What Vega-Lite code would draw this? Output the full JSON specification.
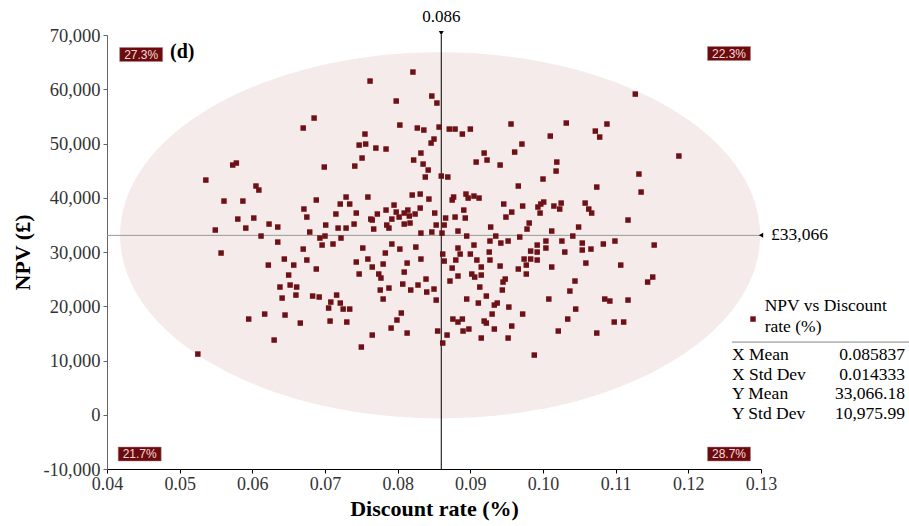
{
  "$schema": "https://vega.github.io/schema/vega-lite/v6.json",
  "width": 654,
  "height": 434,
  "autosize": {"type": "none"},
  "padding": {"left": 107, "top": 35, "right": 148, "bottom": 57},
  "background": "white",
  "config": {
    "view": {"stroke": null},
    "font": "Liberation Serif",
    "axis": {"grid": false, "labelFont": "Liberation Serif", "titleFont": "Liberation Serif", "titleFontWeight": "bold", "titleColor": "#000", "labelColor": "#333"}
  },
  "datasets": {
    "points": [
      {"rate":0.0821,"npv":63170},{"rate":0.0762,"npv":61510},{"rate":0.0847,"npv":58750},{"rate":0.0854,"npv":57460},{"rate":0.0798,"npv":57830},
      {"rate":0.0685,"npv":54690},{"rate":0.0670,"npv":52850},{"rate":0.0803,"npv":53400},{"rate":0.0827,"npv":52850},{"rate":0.0836,"npv":52480},
      {"rate":0.0857,"npv":53030},{"rate":0.0755,"npv":51740},{"rate":0.0850,"npv":50820},{"rate":0.0846,"npv":50080},{"rate":0.0747,"npv":49710},
      {"rate":0.0756,"npv":49900},{"rate":0.0770,"npv":49160},{"rate":0.0784,"npv":48980},{"rate":0.0832,"npv":48240},{"rate":0.0751,"npv":47320},
      {"rate":0.0822,"npv":46950},{"rate":0.0573,"npv":46030},{"rate":0.0578,"npv":46400},{"rate":0.0699,"npv":45660},{"rate":0.0741,"npv":45840},
      {"rate":0.0835,"npv":46210},{"rate":0.0842,"npv":45110},{"rate":0.0838,"npv":43820},{"rate":0.0860,"npv":44000},{"rate":0.0536,"npv":43260},
      {"rate":0.0605,"npv":42160},{"rate":0.0609,"npv":41420},{"rate":0.0561,"npv":39390},{"rate":0.0587,"npv":39390},{"rate":0.0688,"npv":39580},
      {"rate":0.0671,"npv":37920},{"rate":0.0729,"npv":40130},{"rate":0.0721,"npv":38840},{"rate":0.0734,"npv":38840},{"rate":0.0759,"npv":40130},
      {"rate":0.0820,"npv":40500},{"rate":0.0831,"npv":40680},{"rate":0.0843,"npv":39760},{"rate":0.0715,"npv":37000},{"rate":0.0743,"npv":37180},
      {"rate":0.0675,"npv":36440},{"rate":0.0772,"npv":37000},{"rate":0.0784,"npv":37730},{"rate":0.0795,"npv":38650},{"rate":0.0798,"npv":37360},
      {"rate":0.0814,"npv":37730},{"rate":0.0831,"npv":38100},{"rate":0.0809,"npv":37180},{"rate":0.0802,"npv":36440},{"rate":0.0816,"npv":36630},
      {"rate":0.0824,"npv":37000},{"rate":0.0851,"npv":37180},{"rate":0.0580,"npv":36070},{"rate":0.0602,"npv":36260},{"rate":0.0763,"npv":36070},
      {"rate":0.0792,"npv":36070},{"rate":0.1127,"npv":59110},{"rate":0.0871,"npv":52660},{"rate":0.0879,"npv":52660},{"rate":0.0889,"npv":51740},
      {"rate":0.0900,"npv":52660},{"rate":0.0956,"npv":53590},{"rate":0.1032,"npv":53770},{"rate":0.1088,"npv":53590},{"rate":0.1072,"npv":52290},
      {"rate":0.1078,"npv":51190},{"rate":0.1010,"npv":51370},{"rate":0.0971,"npv":49900},{"rate":0.0961,"npv":48420},{"rate":0.0919,"npv":48240},
      {"rate":0.0923,"npv":46950},{"rate":0.0908,"npv":46580},{"rate":0.0941,"npv":46030},{"rate":0.1019,"npv":46580},{"rate":0.1018,"npv":44920},
      {"rate":0.1187,"npv":47690},{"rate":0.1132,"npv":44370},{"rate":0.0869,"npv":43820},{"rate":0.1000,"npv":43450},{"rate":0.0966,"npv":42160},
      {"rate":0.1074,"npv":41970},{"rate":0.1135,"npv":41050},{"rate":0.0875,"npv":39580},{"rate":0.0877,"npv":40130},{"rate":0.0894,"npv":40680},
      {"rate":0.0897,"npv":39940},{"rate":0.0905,"npv":40310},{"rate":0.0912,"npv":39940},{"rate":0.0891,"npv":37730},{"rate":0.0946,"npv":38840},
      {"rate":0.0972,"npv":38470},{"rate":0.0993,"npv":38290},{"rate":0.0997,"npv":38840},{"rate":0.1001,"npv":39210},{"rate":0.1015,"npv":38470},
      {"rate":0.1025,"npv":39020},{"rate":0.1023,"npv":37920},{"rate":0.0996,"npv":37180},{"rate":0.1058,"npv":39020},{"rate":0.1063,"npv":37920},
      {"rate":0.1067,"npv":37180},{"rate":0.0957,"npv":37360},{"rate":0.0949,"npv":36440},{"rate":0.0866,"npv":36260},{"rate":0.0879,"npv":36440},
      {"rate":0.0893,"npv":36260},{"rate":0.1117,"npv":35890},{"rate":0.0549,"npv":34050},{"rate":0.0591,"npv":34410},{"rate":0.0623,"npv":35150},
      {"rate":0.0635,"npv":34600},{"rate":0.0612,"npv":32940},{"rate":0.0635,"npv":31830},{"rate":0.0679,"npv":33680},{"rate":0.0701,"npv":34970},
      {"rate":0.0718,"npv":34410},{"rate":0.0729,"npv":34410},{"rate":0.0740,"npv":35150},{"rate":0.0765,"npv":35890},{"rate":0.0767,"npv":34230},
      {"rate":0.0785,"npv":34970},{"rate":0.0788,"npv":34410},{"rate":0.0809,"npv":35150},{"rate":0.0817,"npv":35340},{"rate":0.0853,"npv":34970},
      {"rate":0.0832,"npv":33490},{"rate":0.0847,"npv":33680},{"rate":0.0861,"npv":33490},{"rate":0.0693,"npv":32570},{"rate":0.0700,"npv":32940},
      {"rate":0.0722,"npv":32570},{"rate":0.0696,"npv":31280},{"rate":0.0711,"npv":31470},{"rate":0.0557,"npv":29810},{"rate":0.0670,"npv":30540},
      {"rate":0.0644,"npv":28700},{"rate":0.0675,"npv":28520},{"rate":0.0657,"npv":27590},{"rate":0.0622,"npv":27590},{"rate":0.0688,"npv":26860},
      {"rate":0.0752,"npv":30730},{"rate":0.0792,"npv":31470},{"rate":0.0803,"npv":30540},{"rate":0.0825,"npv":30910},{"rate":0.0783,"npv":29810},
      {"rate":0.0743,"npv":28150},{"rate":0.0759,"npv":28700},{"rate":0.0780,"npv":27780},{"rate":0.0765,"npv":27230},{"rate":0.0813,"npv":27960},
      {"rate":0.0832,"npv":28700},{"rate":0.0809,"npv":26300},{"rate":0.0747,"npv":25940},{"rate":0.0774,"npv":25940},{"rate":0.0777,"npv":25200},
      {"rate":0.0650,"npv":25750},{"rate":0.0652,"npv":23910},{"rate":0.0638,"npv":23540},{"rate":0.0661,"npv":23540},{"rate":0.0660,"npv":22060},
      {"rate":0.0641,"npv":21510},{"rate":0.0683,"npv":21880},{"rate":0.0692,"npv":21700},{"rate":0.0716,"npv":22060},{"rate":0.0708,"npv":20770},
      {"rate":0.0721,"npv":20590},{"rate":0.0705,"npv":19670},{"rate":0.0725,"npv":19480},{"rate":0.0734,"npv":19480},{"rate":0.0776,"npv":22990},
      {"rate":0.0788,"npv":23350},{"rate":0.0780,"npv":21330},{"rate":0.0807,"npv":24090},{"rate":0.0818,"npv":22990},{"rate":0.0828,"npv":23910},
      {"rate":0.0839,"npv":25010},{"rate":0.0840,"npv":22620},{"rate":0.0850,"npv":23170},{"rate":0.0853,"npv":21140},{"rate":0.0862,"npv":29620},
      {"rate":0.0864,"npv":28330},{"rate":0.0805,"npv":18750},{"rate":0.0799,"npv":17460},{"rate":0.0791,"npv":15980},{"rate":0.0813,"npv":15060},
      {"rate":0.0765,"npv":14690},{"rate":0.0750,"npv":12480},{"rate":0.0855,"npv":15430},{"rate":0.0862,"npv":13220},{"rate":0.0595,"npv":17640},
      {"rate":0.0617,"npv":18560},{"rate":0.0645,"npv":18380},{"rate":0.0666,"npv":16900},{"rate":0.0707,"npv":17270},{"rate":0.0730,"npv":17090},
      {"rate":0.0630,"npv":13770},{"rate":0.0525,"npv":11190},{"rate":0.0864,"npv":34970},{"rate":0.0883,"npv":33860},{"rate":0.0895,"npv":32940},
      {"rate":0.0928,"npv":34600},{"rate":0.0935,"npv":32940},{"rate":0.0927,"npv":32020},{"rate":0.0942,"npv":31650},{"rate":0.0952,"npv":32020},
      {"rate":0.0968,"npv":32760},{"rate":0.0981,"npv":35340},{"rate":0.0978,"npv":34230},{"rate":0.1012,"npv":33860},{"rate":0.1049,"npv":34600},
      {"rate":0.1041,"npv":32940},{"rate":0.1026,"npv":32020},{"rate":0.1004,"npv":32020},{"rate":0.0992,"npv":31280},{"rate":0.1004,"npv":30730},
      {"rate":0.1054,"npv":31650},{"rate":0.1066,"npv":30540},{"rate":0.1054,"npv":30360},{"rate":0.1083,"npv":31470},{"rate":0.1099,"npv":32020},
      {"rate":0.1153,"npv":31280},{"rate":0.0905,"npv":31280},{"rate":0.0883,"npv":30730},{"rate":0.0886,"npv":29620},{"rate":0.0900,"npv":29620},
      {"rate":0.0880,"npv":28520},{"rate":0.0909,"npv":28520},{"rate":0.0926,"npv":29990},{"rate":0.0927,"npv":28520},{"rate":0.0875,"npv":27040},
      {"rate":0.0915,"npv":27230},{"rate":0.0941,"npv":27410},{"rate":0.0966,"npv":26860},{"rate":0.0974,"npv":28700},{"rate":0.0983,"npv":30170},
      {"rate":0.0992,"npv":29990},{"rate":0.0983,"npv":28700},{"rate":0.0992,"npv":28520},{"rate":0.0977,"npv":27590},{"rate":0.0977,"npv":25940},
      {"rate":0.1030,"npv":29990},{"rate":0.1012,"npv":27230},{"rate":0.1059,"npv":27960},{"rate":0.1107,"npv":27590},{"rate":0.0883,"npv":25570},
      {"rate":0.0902,"npv":25940},{"rate":0.0906,"npv":25380},{"rate":0.0915,"npv":25750},{"rate":0.0872,"npv":24650},{"rate":0.0948,"npv":25010},
      {"rate":0.0945,"npv":24460},{"rate":0.0913,"npv":23540},{"rate":0.0944,"npv":22990},{"rate":0.0922,"npv":21880},{"rate":0.0895,"npv":21330},
      {"rate":0.0911,"npv":20590},{"rate":0.0937,"npv":20590},{"rate":0.0933,"npv":20220},{"rate":0.0953,"npv":19850},{"rate":0.0930,"npv":18560},
      {"rate":0.0972,"npv":18560},{"rate":0.1008,"npv":21330},{"rate":0.1044,"npv":24650},{"rate":0.1037,"npv":22800},{"rate":0.1045,"npv":19480},
      {"rate":0.1034,"npv":17640},{"rate":0.1085,"npv":21330},{"rate":0.1092,"npv":20960},{"rate":0.1117,"npv":21140},{"rate":0.1144,"npv":24460},
      {"rate":0.1151,"npv":25380},{"rate":0.1098,"npv":17090},{"rate":0.1111,"npv":17090},{"rate":0.1074,"npv":15060},{"rate":0.1021,"npv":15430},
      {"rate":0.0876,"npv":17640},{"rate":0.0883,"npv":17090},{"rate":0.0889,"npv":17640},{"rate":0.0919,"npv":17270},{"rate":0.0922,"npv":16900},
      {"rate":0.0957,"npv":16350},{"rate":0.0933,"npv":15800},{"rate":0.0898,"npv":15800},{"rate":0.0890,"npv":15430},{"rate":0.0868,"npv":14690},
      {"rate":0.0915,"npv":14140},{"rate":0.0952,"npv":14140},{"rate":0.0988,"npv":11000}
    ]
  },
  "layer": [
    {
      "data": {"values": [{"xmean": 0.085837, "ymean": 33066.18}]},
      "mark": {"type": "point", "shape": "M -1 0 C -1 -0.316 -0.5523 -0.572 0 -0.572 C 0.5523 -0.572 1 -0.316 1 0 C 1 0.316 0.5523 0.572 0 0.572 C -0.5523 0.572 -1 0.316 -1 0 Z", "size": 409600, "filled": true, "fill": "#F5EBEB", "strokeWidth": 0, "opacity": 1},
      "encoding": {
        "x": {"field": "xmean", "type": "quantitative", "scale": {"domain": [0.04, 0.13], "nice": false, "zero": false},
          "axis": {"title": "Discount rate (%)", "values": [0.04,0.05,0.06,0.07,0.08,0.09,0.10,0.11,0.12,0.13], "format": ".2f", "labelFontSize": 18, "tickSize": 4, "tickColor": "#000", "domainColor": "#000", "labelPadding": 2, "titleFontSize": 22, "titlePadding": 5, "labelFlush": false}},
        "y": {"field": "ymean", "type": "quantitative", "scale": {"domain": [-10000, 70000], "nice": false, "zero": false},
          "axis": {"title": "NPV (£)", "values": [-10000,0,10000,20000,30000,40000,50000,60000,70000], "labelExpr": "replace(format(datum.value, ','), '\u2212', '-')", "labelFontSize": 18.5, "tickSize": 4, "tickColor": "#666", "domainColor": "#666", "labelPadding": 3, "titleFontSize": 22, "titlePadding": 8}}
      }
    },
    {
      "data": {"values": [{}]},
      "mark": {"type": "rule", "color": "#999999", "strokeWidth": 1},
      "encoding": {"y": {"datum": 33066}}
    },
    {
      "data": {"values": [{}]},
      "mark": {"type": "rule", "color": "#000000", "strokeWidth": 1},
      "encoding": {"x": {"datum": 0.086}}
    },
    {
      "data": {"name": "points"},
      "mark": {"type": "square", "filled": true, "size": 30, "color": "#6E1116", "opacity": 1},
      "encoding": {
        "x": {"field": "rate", "type": "quantitative"},
        "y": {"field": "npv", "type": "quantitative"}
      }
    },
    {
      "data": {"values": [{}]},
      "mark": {"type": "point", "shape": "triangle-down", "filled": true, "size": 25, "color": "#000", "opacity": 1},
      "encoding": {"x": {"datum": 0.086}, "y": {"datum": 70360}}
    },
    {
      "data": {"values": [{}]},
      "mark": {"type": "point", "shape": "triangle-left", "filled": true, "size": 25, "color": "#000", "opacity": 1},
      "encoding": {"x": {"datum": 0.13}, "y": {"datum": 33066}}
    },
    {
      "data": {"values": [{}]},
      "mark": {"type": "text", "text": "0.086", "font": "Liberation Serif", "fontSize": 17, "color": "#000", "align": "center", "baseline": "middle"},
      "encoding": {"x": {"datum": 0.086}, "y": {"datum": 73300}}
    },
    {
      "data": {"values": [{}]},
      "mark": {"type": "text", "text": "£33,066", "font": "Liberation Serif", "fontSize": 17.5, "color": "#000", "align": "left", "baseline": "middle", "dx": 10},
      "encoding": {"x": {"datum": 0.13}, "y": {"datum": 33066}}
    },
    {
      "data": {"values": [{}]},
      "mark": {"type": "text", "text": "(d)", "font": "Liberation Serif", "fontSize": 20, "fontWeight": "bold", "color": "#000", "align": "left", "baseline": "middle"},
      "encoding": {"x": {"datum": 0.04867}, "y": {"datum": 66860}}
    },
    {
      "data": {"values": [{}]},
      "encoding": {"x": {"datum": 0.0447}, "y": {"datum": 66400}},
      "layer": [
        {"mark": {"type": "point", "shape": "M -1 -0.326 L 1 -0.326 L 1 0.326 L -1 0.326 Z", "size": 1849, "filled": true, "fill": "#6B0B0E", "stroke": "#B58585", "strokeWidth": 0.5, "opacity": 1}},
        {"mark": {"type": "text", "text": "27.3%", "font": "Liberation Sans", "fontSize": 12, "color": "#F7DCDC", "align": "center", "baseline": "middle"}}
      ]
    },
    {
      "data": {"values": [{}]},
      "encoding": {"x": {"datum": 0.1256}, "y": {"datum": 66580}},
      "layer": [
        {"mark": {"type": "point", "shape": "M -1 -0.326 L 1 -0.326 L 1 0.326 L -1 0.326 Z", "size": 1849, "filled": true, "fill": "#6B0B0E", "stroke": "#B58585", "strokeWidth": 0.5, "opacity": 1}},
        {"mark": {"type": "text", "text": "22.3%", "font": "Liberation Sans", "fontSize": 12, "color": "#F7DCDC", "align": "center", "baseline": "middle"}}
      ]
    },
    {
      "data": {"values": [{}]},
      "encoding": {"x": {"datum": 0.0445}, "y": {"datum": -7240}},
      "layer": [
        {"mark": {"type": "point", "shape": "M -1 -0.326 L 1 -0.326 L 1 0.326 L -1 0.326 Z", "size": 1849, "filled": true, "fill": "#6B0B0E", "stroke": "#B58585", "strokeWidth": 0.5, "opacity": 1}},
        {"mark": {"type": "text", "text": "21.7%", "font": "Liberation Sans", "fontSize": 12, "color": "#F7DCDC", "align": "center", "baseline": "middle"}}
      ]
    },
    {
      "data": {"values": [{}]},
      "encoding": {"x": {"datum": 0.1256}, "y": {"datum": -7240}},
      "layer": [
        {"mark": {"type": "point", "shape": "M -1 -0.326 L 1 -0.326 L 1 0.326 L -1 0.326 Z", "size": 1849, "filled": true, "fill": "#6B0B0E", "stroke": "#B58585", "strokeWidth": 0.5, "opacity": 1}},
        {"mark": {"type": "text", "text": "28.7%", "font": "Liberation Sans", "fontSize": 12, "color": "#F7DCDC", "align": "center", "baseline": "middle"}}
      ]
    },
    {
      "data": {"values": [{}]},
      "mark": {"type": "square", "filled": true, "size": 30, "color": "#6E1116", "opacity": 1},
      "encoding": {"x": {"datum": 0.1289}, "y": {"datum": 17640}}
    },
    {
      "data": {"values": [{}]},
      "mark": {"type": "text", "text": ["NPV vs Discount", "rate (%)"], "lineHeight": 21, "font": "Liberation Serif", "fontSize": 17.5, "color": "#000", "align": "left", "baseline": "alphabetic"},
      "encoding": {"x": {"datum": 0.1305}, "y": {"datum": 19100}}
    },
    {
      "data": {"values": [{}]},
      "mark": {"type": "rule", "color": "#888888", "strokeWidth": 1},
      "encoding": {"x": {"datum": 0.1260}, "x2": {"datum": 0.1504}, "y": {"datum": 13400}}
    },
    {
      "data": {"values": [{}]},
      "mark": {"type": "text", "text": ["X Mean", "X Std Dev", "Y Mean", "Y Std Dev"], "lineHeight": 19.7, "font": "Liberation Serif", "fontSize": 17.5, "color": "#000", "align": "left", "baseline": "alphabetic"},
      "encoding": {"x": {"datum": 0.1260}, "y": {"datum": 10080}}
    },
    {
      "data": {"values": [{}]},
      "mark": {"type": "text", "text": ["0.085837", "0.014333", "33,066.18", "10,975.99"], "lineHeight": 19.7, "font": "Liberation Serif", "fontSize": 17.5, "color": "#000", "align": "right", "baseline": "alphabetic"},
      "encoding": {"x": {"datum": 0.1498}, "y": {"datum": 10080}}
    }
  ]
}
